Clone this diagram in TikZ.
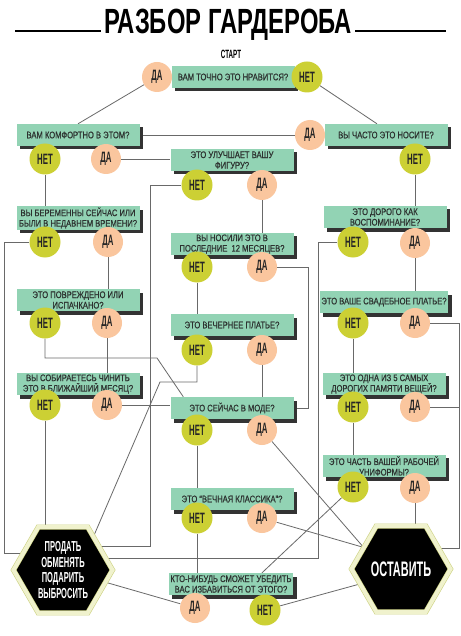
\documentclass[tikz,border=0pt]{standalone}
\usepackage{fontspec}
\setmainfont{Liberation Sans}
\newfontfamily\titlefont[FakeStretch=0.68]{Liberation Sans}
\newfontfamily\questfont[FakeStretch=0.8,FakeBold=0.6]{Liberation Sans}
\newfontfamily\answerfont[FakeStretch=0.52]{Liberation Sans}
\usetikzlibrary{shapes.geometric,shadows,backgrounds}
\definecolor{questgreen}{RGB}{146,211,180}
\definecolor{questtext}{RGB}{45,50,48}
\definecolor{yespeach}{RGB}{250,198,158}
\definecolor{nogreen}{RGB}{204,208,52}
\definecolor{linegray}{RGB}{105,105,105}
\definecolor{hexrim}{RGB}{240,242,205}
\definecolor{hexedge}{RGB}{205,210,130}
\begin{document}
\begin{tikzpicture}[x=1pt,y=-1pt,
  quest/.style={fill=questgreen,minimum width=123pt,minimum height=22pt,inner sep=1.5pt,align=center,text=questtext,
    font=\questfont\fontsize{9.5}{10.5}\selectfont,drop shadow={shadow xshift=3.5pt,shadow yshift=-3.5pt,fill=black!80,opacity=1}},
  yesdot/.style={circle,fill=yespeach,minimum size=30pt,inner sep=0pt,text=black!85,font=\answerfont\bfseries\fontsize{15}{15}\selectfont},
  nodot/.style={yesdot,fill=nogreen,minimum size=31pt},
  hexa/.style={regular polygon,regular polygon sides=6,minimum size=99pt,inner sep=0pt,fill=black,draw=hexedge,double=hexrim,double distance=4pt,line width=.6pt},
  hexlabel/.style={text=white,align=center,inner sep=0pt},
  link/.style={draw=linegray,line width=.8pt}]
\useasboundingbox (0,0) rectangle (460,636);
% title
\node[font=\titlefont\bfseries\fontsize{35}{35}\selectfont,inner sep=3pt] (title) at (228,25) {РАЗБОР ГАРДЕРОБА};
\draw[line width=2pt] (15,31) -- (title.west |- 0,31); \draw[line width=2pt] (title.east |- 0,31) -- (446,31);
\node[font=\answerfont\bfseries\fontsize{12}{12}\selectfont] (start) at (231,54) {СТАРТ};
% first question
\node[quest] (likeit) at (233,77) {ВАМ ТОЧНО ЭТО НРАВИТСЯ?};
\node[yesdot] (likeit-yes) at (157,77) {ДА}; \node[nodot] (likeit-no) at (307,77) {НЕТ};
% left column
\node[quest] (comfort) at (78,135) {ВАМ КОМФОРТНО В ЭТОМ?};
\node[nodot] (comfort-no) at (45,159) {НЕТ}; \node[yesdot] (comfort-yes) at (106,159) {ДА};
\node[quest] (pregnant) at (78,218) {ВЫ БЕРЕМЕННЫ СЕЙЧАС ИЛИ\\БЫЛИ В НЕДАВНЕМ ВРЕМЕНИ?};
\node[nodot] (pregnant-no) at (45,242) {НЕТ}; \node[yesdot] (pregnant-yes) at (108,242) {ДА};
\node[quest] (damaged) at (78,300) {ЭТО ПОВРЕЖДЕНО ИЛИ\\ИСПАЧКАНО?};
\node[nodot] (damaged-no) at (45,323) {НЕТ}; \node[yesdot] (damaged-yes) at (107,323) {ДА};
\node[quest] (repair) at (78,384) {ВЫ СОБИРАЕТЕСЬ ЧИНИТЬ\\ЭТО В БЛИЖАЙШИЙ МЕСЯЦ?};
\node[nodot] (repair-no) at (45,405) {НЕТ}; \node[yesdot] (repair-yes) at (107,405) {ДА};
% middle column
\node[quest] (figure) at (232,160) {ЭТО УЛУЧШАЕТ ВАШУ\\ФИГУРУ?};
\node[nodot] (figure-no) at (197,185) {НЕТ}; \node[yesdot] (figure-yes) at (262,185) {ДА};
\node[quest] (worn) at (232,244) {ВЫ НОСИЛИ ЭТО В\\ПОСЛЕДНИЕ\ \ 12 МЕСЯЦЕВ?};
\node[nodot] (worn-no) at (197,267) {НЕТ}; \node[yesdot] (worn-yes) at (262,267) {ДА};
\node[quest] (evening) at (232,325) {ЭТО ВЕЧЕРНЕЕ ПЛАТЬЕ?};
\node[nodot] (evening-no) at (197,350) {НЕТ}; \node[yesdot] (evening-yes) at (262,350) {ДА};
\node[quest] (fashion) at (232,408) {ЭТО СЕЙЧАС В МОДЕ?};
\node[nodot] (fashion-no) at (197,430) {НЕТ}; \node[yesdot] (fashion-yes) at (262,430) {ДА};
\node[quest] (classic) at (232,499) {ЭТО “ВЕЧНАЯ КЛАССИКА”?};
\node[nodot] (classic-no) at (197,518) {НЕТ}; \node[yesdot] (classic-yes) at (262,518) {ДА};
\node[quest] (persuade) at (231,584) {КТО-НИБУДЬ СМОЖЕТ УБЕДИТЬ\\ВАС ИЗБАВИТЬСЯ ОТ ЭТОГО?};
\node[yesdot] (persuade-yes) at (195,608) {ДА}; \node[nodot] (persuade-no) at (265,610) {НЕТ};
% right column
\node[quest] (often) at (386,135) {ВЫ ЧАСТО ЭТО НОСИТЕ?};
\node[yesdot] (often-yes) at (310,135) {ДА}; \node[nodot] (often-no) at (415,159) {НЕТ};
\node[quest] (memory) at (385,217) {ЭТО ДОРОГО КАК\\ВОСПОМИНАНИЕ?};
\node[nodot] (memory-no) at (353,242) {НЕТ}; \node[yesdot] (memory-yes) at (415,243) {ДА};
\node[quest] (wedding) at (384,302) {ЭТО ВАШЕ СВАДЕБНОЕ ПЛАТЬЕ?};
\node[nodot] (wedding-no) at (353,323) {НЕТ}; \node[yesdot] (wedding-yes) at (415,323) {ДА};
\node[quest] (topfive) at (384,384) {ЭТО ОДНА ИЗ 5 САМЫХ\\ДОРОГИХ ПАМЯТИ ВЕЩЕЙ?};
\node[nodot] (topfive-no) at (353,407) {НЕТ}; \node[yesdot] (topfive-yes) at (415,407) {ДА};
\node[quest] (uniform) at (384,466) {ЭТО ЧАСТЬ ВАШЕЙ РАБОЧЕЙ\\УНИФОРМЫ?};
\node[nodot] (uniform-no) at (353,487) {НЕТ}; \node[yesdot] (uniform-yes) at (415,488) {ДА};
% outcomes
\node[hexa] (sell) at (63,570) {};
\node[hexlabel,font=\answerfont\bfseries\fontsize{14.5}{15.7}\selectfont] (sell-text) at (sell) {ПРОДАТЬ\\ОБМЕНЯТЬ\\ПОДАРИТЬ\\ВЫБРОСИТЬ};
\node[hexa] (keep) at (401,569) {};
\node[hexlabel,font=\answerfont\bfseries\fontsize{21}{21}\selectfont] (keep-text) at (keep) {ОСТАВИТЬ};
% connectors
\begin{scope}[on background layer]
\fill[white] (0,0) rectangle (460,636);
\foreach \a/\b in {comfort-no/pregnant,pregnant-yes/damaged,damaged-yes/repair,repair-no/sell,figure-yes/worn,worn-no/evening,
  evening-yes/fashion,fashion-no/classic,classic-no/persuade,often-no/memory,memory-yes/wedding,wedding-no/topfive,topfive-no/uniform,uniform-yes/keep}
  \draw[link] (\a) -- (\a |- \b.north);
\draw[link] (likeit-yes) -- (comfort.north); \draw[link] (likeit-no) -- ([xshift=-9pt]often.north);
\draw[link] (often-yes) -- (comfort.east); \draw[link] (comfort-yes) -- (comfort-yes -| figure.west);
\draw[link] (repair-yes) -- (repair-yes -| fashion.west);
\draw[link] (figure-no) -| (150,546) -- (sell |- 0,546);
\draw[link] (pregnant-no) -| (4,553) -- (sell |- 0,553);
\draw[link] (damaged-no) |- (157,358) -- ([xshift=13pt]fashion.north west);
\draw[link] (evening-no) |- (160,382) -- (92,540);
\draw[link] (worn-yes) -| (308,408) -- (fashion.east);
\draw[link] (memory-no) -| (318,558) -- (sell |- 0,558);
\draw[link] (wedding-yes) -| (459,548) -- (keep |- 0,548);
\draw[link] (topfive-yes) -- (459,407);
\draw[link] (fashion-yes) -- (keep.150); \draw[link] (classic-yes) -- (keep.150);
\draw[link] (uniform-no) -- ([xshift=31pt]persuade.north);
\draw[link] (persuade-yes) -- (sell); \draw[link] (persuade-no) -- (keep.200);
\end{scope}
\end{tikzpicture}
\end{document}
